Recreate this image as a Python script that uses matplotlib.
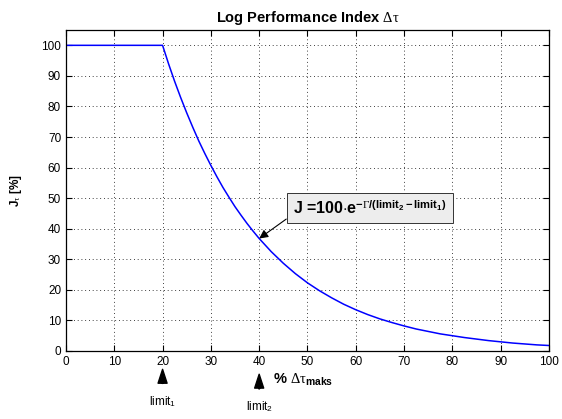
import numpy as np
from matplotlib import pyplot as plt

plt.rcParams['font.family'] = ['Liberation Sans', 'DejaVu Sans']
plt.rcParams['mathtext.fontset'] = 'custom'
plt.rcParams['mathtext.rm'] = 'Liberation Serif'
plt.rcParams['mathtext.it'] = 'Liberation Serif'
plt.rcParams['mathtext.bf'] = 'Liberation Sans:bold'
plt.rcParams['mathtext.sf'] = 'Liberation Sans'

# values
x = [0, 10, 20, 21.25, 22.5, 23.75, 25, 26.25, 27.5, 28.75, 30, 31.25, 32.5,
     33.75, 35, 36.25, 37.5, 38.75, 40, 42.5, 45, 47.5, 50, 52.5, 55, 57.5,
     60, 62.5, 65, 67.5, 70, 72.5, 75, 77.5, 80, 82.5, 85, 87.5, 90, 92.5,
     95, 97.5, 100]
j = [100, 100, 100, 93.9, 88.2, 82.9, 77.9, 73.2, 68.7, 64.6, 60.7, 57.0,
     53.5, 50.3, 47.2, 44.4, 41.7, 39.2, 36.8, 32.5, 28.7, 25.3, 22.3, 19.7,
     17.4, 15.3, 13.5, 11.9, 10.5, 9.3, 8.2, 7.2, 6.4, 5.6, 5.0, 4.4, 3.9,
     3.4, 3.0, 2.6, 2.3, 2.0, 1.8]
xticks = list(range(0, 101, 10))
yticks = list(range(0, 101, 10))
limit1 = 20
limit2 = 40

fig = plt.figure(figsize=(5.62, 4.19), dpi=100)
ax = fig.add_axes([0.1174, 0.1623, 0.8594, 0.766])
ax.plot(x, j, color='#0000ff', lw=1.1)
ax.set_xlim(0, 100)
ax.set_ylim(0, 105)
ax.set_xticks(xticks)
ax.set_yticks(yticks)
ax.tick_params(direction='in', top=True, right=True, labelsize=8.5, length=4, width=0.8)
for s in ax.spines.values():
    s.set_linewidth(0.9)
ax.grid(True, ls=(0, (1, 3.5)), color='k', lw=0.6)
ax.set_title(r'Log Performance Index $\Delta\tau$', fontsize=10.5, fontweight='bold', pad=6)
ax.set_ylabel(r'J$_\tau$ [%]', fontsize=8.5, fontweight='bold')
ax.yaxis.set_label_coords(-0.087, 0.5)

ax.annotate(r'J =100$\cdot$e$^{\mathbf{-}\Gamma\mathbf{/(limit_2-limit_1)}}$',
            xy=(40, 36.8), xytext=(47.0, 46.8), fontsize=11.5, fontweight='bold',
            va='center', ha='left',
            bbox=dict(boxstyle='square,pad=0.4', fc='#ededed', ec='#333333', lw=0.7),
            arrowprops=dict(arrowstyle='-|>', color='k', lw=0.8, mutation_scale=13,
                            shrinkA=0, shrinkB=0, relpos=(0.0, 0.15)))

for lim, lab, tip, tail, ty in [(limit1, r'limit$_\mathsf{1}$', -6, -10.6, -16.5),
                                (limit2, r'limit$_\mathsf{2}$', -7.6, -12.4, -18.3)]:
    ax.annotate('', xy=(lim, tip), xytext=(lim, tail),
                xycoords='data', annotation_clip=False,
                arrowprops=dict(width=0.4, headwidth=6.5, headlength=10, color='k', shrink=0))
    ax.text(lim, ty, lab, fontsize=8.5, ha='center', va='center', clip_on=False)
ax.text(42.8, -9.6, r'% $\Delta\tau_{\mathbf{maks}}$', fontsize=10.5, fontweight='bold',
        ha='left', va='center', clip_on=False)

fig.savefig('out.png', dpi=100)
